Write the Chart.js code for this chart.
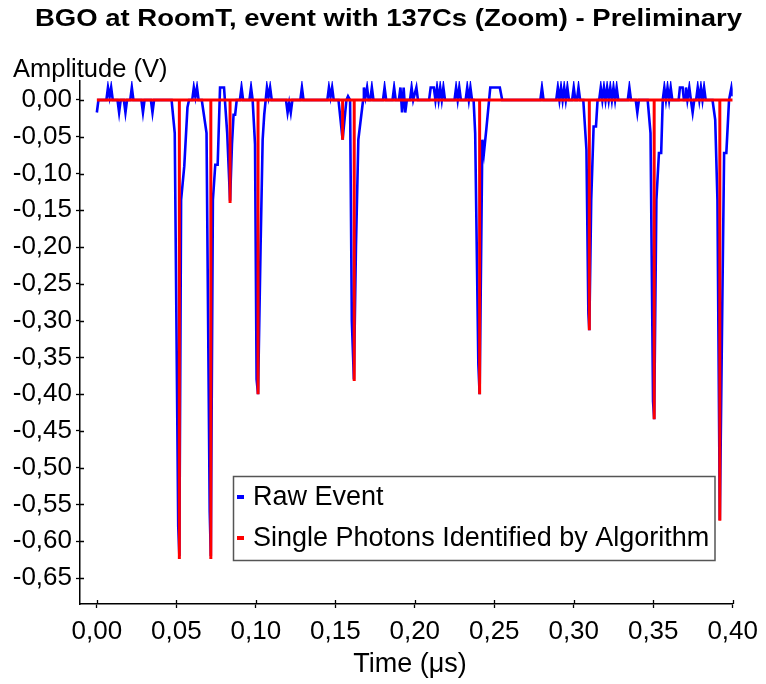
<!DOCTYPE html>
<html>
<head>
<meta charset="utf-8">
<script src="https://cdn.jsdelivr.net/npm/chart.js@4"></script>
<style>
  html, body { margin: 0; padding: 0; background: #fff; }
  #wrap { width: 766px; height: 684px; position: relative; }
</style>
</head>
<body>
<div id="wrap"><canvas id="pulseChart" width="766" height="684"></canvas></div>
<script>
// time axis in ns (labels shown in µs), amplitude in V
const xTickValues = [0, 50, 100, 150, 200, 250, 300, 350, 400];
const xTickLabels = ["0,00", "0,05", "0,10", "0,15", "0,20", "0,25", "0,30", "0,35", "0,40"];
const yTickValues = [0, -0.05, -0.1, -0.15, -0.2, -0.25, -0.3, -0.35, -0.4, -0.45, -0.5, -0.55, -0.6, -0.65];
const yTickLabels = ["0,00", "-0,05", "-0,10", "-0,15", "-0,20", "-0,25", "-0,30", "-0,35", "-0,40", "-0,45", "-0,50", "-0,55", "-0,60", "-0,65"];

// photons found by the algorithm
const photonTimes = [51.9, 71.7, 83.8, 101.4, 154.6, 161.9, 240.8, 309.8, 350.6, 391.9];
const photonAmps = [-0.624, -0.624, -0.140, -0.400, -0.054, -0.382, -0.400, -0.313, -0.434, -0.572];

// raw waveform
const rawTimes = [
  0, 1, 6, 7, 8, 9, 10, 13, 14, 15, 17, 18, 19, 21, 22, 23, 28, 29, 30, 34, 35, 36,
  47, 49, 51.2, 51.9, 53, 55, 57, 58,
  60, 61, 62, 63, 64,
  66, 69, 71, 71.7, 73, 74.5, 76, 77.5, 80,
  82, 83.8, 85, 86, 87, 88,
  90, 91, 92, 96, 97, 98,
  99.5, 100.5, 101.4, 103, 104.3, 105.3, 107, 108, 109, 110,
  119, 120, 121, 122, 123, 128, 129, 130,
  145, 146, 147, 148, 149,
  152, 154.6, 157, 158, 159.3, 160.4, 161.7, 163, 164.5, 167.5,
  168, 169, 170, 171, 172, 173, 174,
  180, 181, 182, 186, 187, 188,
  190, 191, 192, 193, 194, 195,
  197, 198, 199, 201, 202,
  209, 210, 212, 213, 214, 215, 216, 217, 218, 219,
  225, 226, 227, 228, 229,
  232, 233, 234, 235, 236,
  237, 238, 240, 240.8, 242.5, 243.5, 245, 247.5, 253.5, 255,
  279, 280, 281,
  289, 290, 291, 292, 293, 294, 295, 296, 297, 299, 300, 301, 302, 303, 304,
  306, 308, 309.2, 309.8, 311, 312.5, 314, 315,
  316, 317, 318, 319, 320, 321, 322, 323, 324, 325, 326, 327, 328,
  334, 335, 336, 339, 340, 341,
  346.5, 348.3, 349.9, 350.6, 352, 353.6, 355, 356, 357, 358, 359, 360, 361, 362,
  366, 366.8, 368.5, 369.3, 370, 370.6, 371.5, 372.7, 373.7, 374.8, 375.8,
  377, 378, 379, 380, 381, 382, 383,
  387.3, 389, 390.4, 391.9, 393.5, 394.6, 396, 397.7, 399.2, 400
];
const rawAmps = [
  -0.017, 0, 0, 0.017, 0.004, 0.017, 0, 0, -0.017, 0, 0, -0.017, 0, 0, 0.017, 0, 0, -0.017, 0, 0, -0.017, 0,
  0, -0.045, -0.58, -0.62, -0.136, -0.09, -0.01, 0,
  0, 0.017, 0.004, 0.017, 0,
  0, -0.045, -0.56, -0.62, -0.136, -0.088, -0.088, 0.017, 0.017,
  -0.045, -0.137, -0.06, -0.02, -0.02, 0,
  0, 0.017, 0, 0, 0.017, 0,
  -0.06, -0.38, -0.40, -0.2, -0.054, -0.02, 0.017, 0.004, 0.017, 0,
  0, -0.017, -0.004, -0.017, 0, 0, 0.017, 0,
  0, 0.017, 0.004, 0.017, 0,
  0, -0.054, 0, 0.005, 0, -0.3, -0.38, -0.2, -0.054, 0,
  0.017, 0.004, 0.017, 0, 0, 0.017, 0,
  0, 0.017, 0, 0, 0.017, 0,
  0, 0.017, -0.017, 0.017, -0.017, 0,
  0, 0.017, 0, 0.017, 0,
  0, 0.017, 0.017, 0, 0.017, 0, 0.017, 0, 0.017, 0,
  0, 0.017, 0, 0.017, 0,
  0, 0.017, 0, 0.017, 0,
  0, -0.045, -0.36, -0.40, -0.054, -0.072, -0.04, 0.017, 0.017, 0,
  0, 0.017, 0,
  0, 0.017, 0, 0.017, 0, 0.017, 0, 0.017, 0, 0, 0.017, 0, 0, 0.017, 0,
  0, -0.068, -0.29, -0.313, -0.136, -0.036, -0.036, 0,
  0, 0.017, 0, 0.017, 0, 0.017, 0, 0.017, 0, 0.017, 0, 0.017, 0,
  0, 0.017, 0, 0, -0.017, 0,
  0, -0.045, -0.41, -0.434, -0.136, -0.072, -0.072, 0, 0.017, 0, 0.017, 0, 0.017, 0,
  0, 0.017, 0.017, 0, 0, 0.017, 0, 0.017, 0, -0.017, 0,
  0, 0.017, 0, 0.017, 0, 0.017, 0,
  0, -0.027, -0.136, -0.571, -0.27, -0.072, -0.072, 0, 0.017, 0.005
];

const rawPoints = rawTimes.map((t, i) => ({ x: t, y: rawAmps[i] }));
const photonPoints = [{ x: 0, y: 0 }];
photonTimes.forEach((t, i) => {
  photonPoints.push({ x: t, y: 0 }, { x: t, y: photonAmps[i] }, { x: t, y: 0 });
});
photonPoints.push({ x: 400, y: 0 });

const FONT = "'Liberation Sans', Arial, sans-serif";
const TITLE = 'BGO at RoomT, event with 137Cs (Zoom) - Preliminary';

const decorPlugin = {
  id: 'decor',
  afterDraw(chart) {
    const ctx = chart.ctx;
    const xs = chart.scales.x, ys = chart.scales.y;
    const area = chart.chartArea;
    ctx.save();
    // inner half of the crossing ticks
    ctx.strokeStyle = '#000';
    ctx.lineWidth = 1.3;
    ctx.beginPath();
    yTickValues.forEach(v => {
      const py = Math.round(ys.getPixelForValue(v)) + 0.5;
      ctx.moveTo(area.left, py); ctx.lineTo(area.left + 4, py);
    });
    xTickValues.forEach(v => {
      const px = Math.round(xs.getPixelForValue(v)) + 0.5;
      ctx.moveTo(px, area.bottom); ctx.lineTo(px, area.bottom - 4);
    });
    ctx.stroke();

    // title, a bit wide like the original
    ctx.fillStyle = '#000';
    ctx.textBaseline = 'middle';
    ctx.textAlign = 'left';
    ctx.font = 'bold 24px ' + FONT;
    const tw = ctx.measureText(TITLE).width;
    ctx.save();
    ctx.translate(35, 19);
    ctx.scale(707 / tw, 1);
    ctx.fillText(TITLE, 0, 0);
    ctx.restore();

    ctx.font = '25.5px ' + FONT;
    ctx.textAlign = 'left';
    ctx.fillText('Amplitude (V)', 13, 70);
    ctx.font = '27px ' + FONT;
    ctx.textAlign = 'center';
    ctx.fillText('Time (\u03bcs)', 410, 665);

    // legend box
    const lx = 233.5, ly = 476.5, lw = 481.5, lh = 84;
    ctx.fillStyle = '#fff';
    ctx.fillRect(lx, ly, lw, lh);
    ctx.strokeStyle = '#555';
    ctx.lineWidth = 1.5;
    ctx.strokeRect(lx, ly, lw, lh);
    const rows = [
      { label: 'Raw Event', color: '#0000ff', y: 498 },
      { label: 'Single Photons Identified by Algorithm', color: '#ff0000', y: 539 }
    ];
    ctx.font = '27px ' + FONT;
    ctx.textAlign = 'left';
    rows.forEach(r => {
      ctx.fillStyle = r.color;
      ctx.fillRect(237, r.y - 3, 7, 4);
      ctx.fillStyle = '#000';
      ctx.fillText(r.label, 253, r.y);
    });
    ctx.restore();
  }
};

new Chart(document.getElementById('pulseChart').getContext('2d'), {
  type: 'line',
  data: {
    datasets: [
      {
        label: 'Single Photons Identified by Algorithm',
        data: photonPoints,
        borderColor: '#ff0000',
        borderWidth: 3,
        pointRadius: 0,
        tension: 0,
        order: 0
      },
      {
        label: 'Raw Event',
        data: rawPoints,
        borderColor: '#0000ff',
        borderWidth: 2.6,
        pointRadius: 0,
        tension: 0,
        order: 1
      }
    ]
  },
  options: {
    responsive: false,
    animation: false,
    devicePixelRatio: 1,
    layout: { padding: { top: 81, right: 29, left: 0, bottom: 0 } },
    plugins: { legend: { display: false }, tooltip: { enabled: false } },
    scales: {
      x: {
        type: 'linear',
        min: -10.6,
        max: 400,
        afterFit: s => { s.height = 80; },
        afterBuildTicks: s => { s.ticks = xTickValues.map(v => ({ value: v })); },
        grid: { drawOnChartArea: false, tickLength: 4, color: '#000', tickWidth: 1.3 },
        border: { color: '#000', width: 1.5 },
        ticks: {
          color: '#000',
          padding: 8,
          maxRotation: 0,
          font: { family: FONT, size: 26 },
          callback: v => xTickLabels[xTickValues.indexOf(v)]
        }
      },
      y: {
        min: -0.6853,
        max: 0.0258,
        afterFit: s => { s.width = 80; },
        afterBuildTicks: s => { s.ticks = yTickValues.map(v => ({ value: v })); },
        grid: { drawOnChartArea: false, tickLength: 4, color: '#000', tickWidth: 1.3 },
        border: { color: '#000', width: 1.5 },
        ticks: {
          color: '#000',
          padding: 4,
          font: { family: FONT, size: 26 },
          callback: v => yTickLabels[yTickValues.findIndex(t => Math.abs(t - v) < 1e-9)]
        }
      }
    }
  },
  plugins: [decorPlugin]
});
</script>
</body>
</html>
